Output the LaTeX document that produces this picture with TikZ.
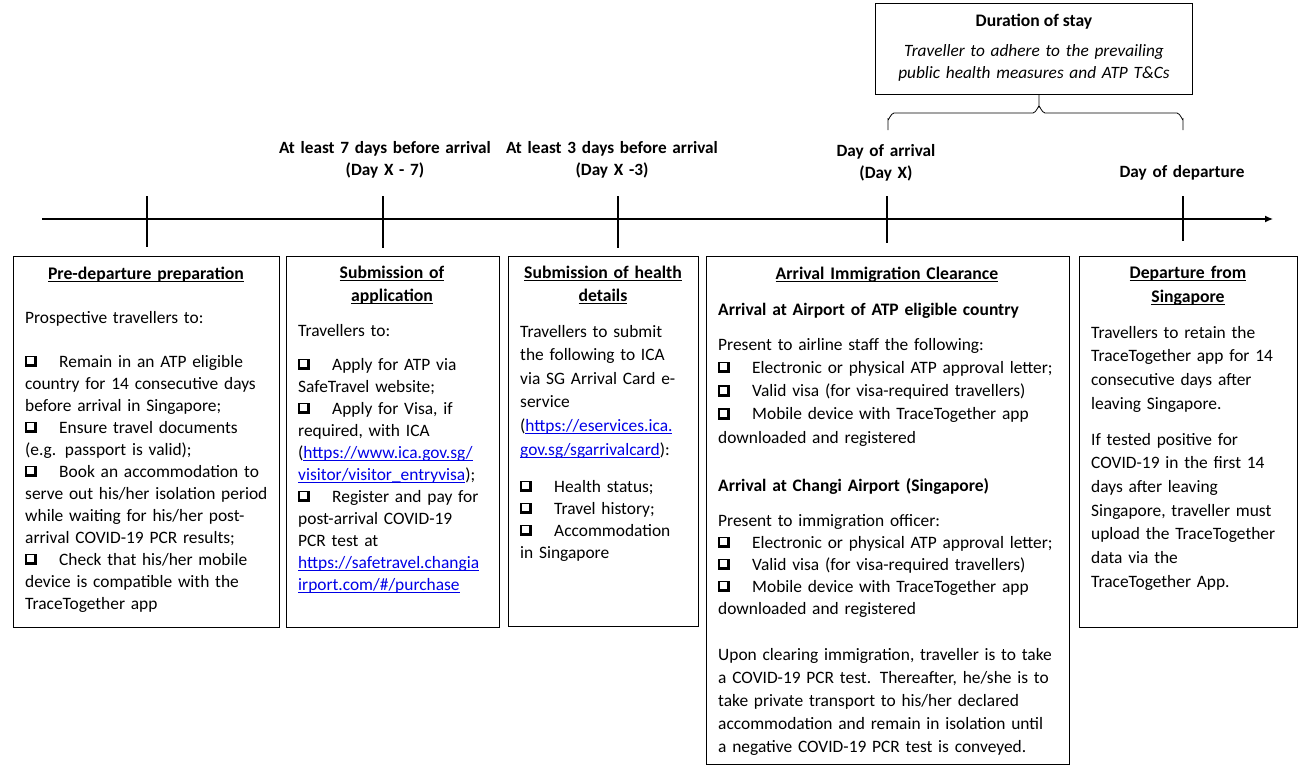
\documentclass[tikz,border=0pt]{standalone}
\usepackage{fontspec}
\setmainfont{Carlito}
\usetikzlibrary{arrows.meta}
\definecolor{linkblue}{RGB}{0,0,230}
\newcommand{\cbglyph}{\rlap{\rule{11.5pt}{11.5pt}}\raisebox{3pt}{\hspace{1.6pt}\textcolor{white}{\rule{7pt}{7pt}}}}
\newcommand{\cbx}{\makebox[34pt][l]{\cbglyph}}
\newcommand{\uln}[1]{\setbox0\hbox{#1}\leavevmode\rlap{\rule[-2.6pt]{\wd0}{1pt}}\box0}
\newcommand{\lnk}[1]{\textcolor{linkblue}{\uln{#1}}}
\newcommand{\fs}[1]{\fontsize{17.4}{#1}\selectfont}
\begin{document}
\begin{tikzpicture}[x=1pt,y=-1pt,
  font=\fs{22},
  box/.style={draw, line width=0.8pt, anchor=north west, inner sep=0pt, minimum width=#1},
  body/.style={anchor=base west, align=left, inner sep=0pt, text width=360pt},
  ttl/.style={anchor=base, align=center, inner sep=0pt, text width=240pt, font=\fontsize{17.7}{23}\selectfont\bfseries},
  tlab/.style={anchor=base, align=center, inner sep=0pt, text width=260pt, font=\fontsize{17.2}{22}\selectfont\bfseries},
  tick/.style={line width=2.6pt},
]
\useasboundingbox (0,0) rectangle (1301,769);

% timeline
\coordinate (axL) at (42,219);
\coordinate (axR) at (1273,219);
\draw[line width=1.3pt, -{Latex[length=8pt,width=7pt]}] (axL) -- (axR);
\draw[tick] (147,196) -- (147,247);
\draw[tick] (383,196) -- (383,248);
\draw[tick] (618,196) -- (618,248);
\draw[tick] (887,196) -- (887,243);
\draw[tick] (1183,196) -- (1183,241);

\node[tlab] (l2) at (385,153) {At least 7 days before arrival\\(Day X - 7)};
\node[tlab] (l3) at (612,153) {At least 3 days before arrival\\(Day X -3)};
\node[tlab] (l4) at (886,156) {Day of arrival\\(Day X)};
\node[tlab] (l5) at (1182,177) {Day of departure};

% duration box
\node[box=317pt, minimum height=91pt] (dur) at (875,3) {};
\node[anchor=base, inner sep=0pt, font=\fontsize{17.6}{20}\selectfont\bfseries] (durt) at (1034,26) {Duration of stay};
\node[anchor=base, align=center, inner sep=0pt, text width=310pt, font=\fontsize{17.3}{22}\selectfont\itshape] (durb) at (1034,56) {Traveller to adhere to the prevailing\\public health measures and ATP T\&Cs};
\coordinate (brL) at (888,130);
\coordinate (brR) at (1183,130);
\draw[line width=0.8pt] (brL) -- (888,119) to[out=-90,in=180] (894,113) -- (1033,113) to[out=0,in=90] (1039,107) -- (dur.south -| 1039,0);
\draw[line width=0.8pt] (brR) -- (1183,119) to[out=-90,in=0] (1177,113) -- (1045,113) to[out=180,in=90] (1039,107);

% box 1
\node[box=266pt, minimum height=371pt] (b1) at (13,256) {};
\node[ttl] (b1t) at (146,279) {\uln{Pre-departure preparation}};
\node[body] (b1a) at (25,323) {Prospective travellers to:};
\node[body] (b1b) at (25,367) {\cbx Remain in an ATP eligible\\country for 14 consecutive days\\before arrival in Singapore;\\\cbx Ensure travel documents\\(e.g. passport is valid);\\\cbx Book an accommodation to\\serve out his/her\ isolation period\\while waiting for his/her post-\\arrival COVID-19 PCR results;\\\cbx Check that his/her mobile\\device is compatible with the\\TraceTogether app};

% box 2
\node[box=213pt, minimum height=371pt] (b2) at (286,256) {};
\node[ttl] (b2t) at (392,278) {\uln{Submission of}\\\uln{application}};
\node[body] (b2a) at (298,336) {Travellers to:};
\node[body] (b2b) at (298,370) {\cbx Apply for ATP via\\SafeTravel website;\\\cbx Apply for Visa, if\\required, with ICA\\(\lnk{https://www.ica.gov.sg/}\\\lnk{visitor/visitor\_entryvisa});\\\cbx Register and pay for\\post-arrival COVID-19\\PCR test at\\\lnk{https://safetravel.changia}\\\lnk{irport.com/\#/purchase}};

% box 3
\node[box=190pt, minimum height=370pt] (b3) at (508,256) {};
\node[ttl] (b3t) at (603,278) {\uln{Submission of health}\\\uln{details}};
\node[body, font=\fs{23.6}] (b3a) at (520,337) {Travellers to submit\\the following to ICA\\via SG Arrival Card e-\\service\\(\lnk{https://eservices.ica.}\\\lnk{gov.sg/sgarrivalcard}):};
\node[body] (b3b) at (520,492) {\cbx Health status;\\\cbx Travel history;\\\cbx Accommodation\\in Singapore};

% box 4
\node[box=363pt, minimum height=508pt] (b4) at (706,256) {};
\node[ttl] (b4t) at (887,279) {\uln{Arrival Immigration Clearance}};
\node[body, font=\fontsize{17.5}{22}\selectfont\bfseries] (b4h1) at (718,315) {Arrival at Airport of ATP eligible country};
\node[body, font=\fs{23.25}] (b4a) at (718,350) {Present to airline staff the following:\\\cbx Electronic or physical ATP approval letter;\\\cbx Valid visa (for visa-required travellers)\\\cbx Mobile device with TraceTogether app\\downloaded and registered};
\node[body, font=\fontsize{17.5}{22}\selectfont\bfseries] (b4h2) at (718,491) {Arrival at Changi Airport (Singapore)};
\node[body] (b4b) at (718,526) {Present to immigration officer:\\\cbx Electronic or physical ATP approval letter;\\\cbx Valid visa (for visa-required travellers)\\\cbx Mobile device with TraceTogether app\\downloaded and registered};
\node[body, font=\fs{23}] (b4c) at (718,660) {Upon clearing immigration, traveller is to take\\a COVID-19 PCR test. Thereafter, he/she is to\\take private transport to his/her declared\\accommodation and remain in isolation until\\a negative COVID-19 PCR test is conveyed.};

% box 5
\node[box=218pt, minimum height=371pt] (b5) at (1079,256) {};
\node[ttl, font=\fontsize{17.7}{24}\selectfont\bfseries] (b5t) at (1188,278) {\uln{Departure from}\\\uln{Singapore}};
\node[body, font=\fs{23.7}] (b5a) at (1091,338) {Travellers to retain the\\TraceTogether app for 14\\consecutive days after\\leaving Singapore.};
\node[body, font=\fs{23.7}] (b5b) at (1091,445) {If tested positive for\\COVID-19 in the first 14\\days after leaving\\Singapore, traveller must\\upload the TraceTogether\\data via the\\TraceTogether App.};
\end{tikzpicture}
\end{document}
